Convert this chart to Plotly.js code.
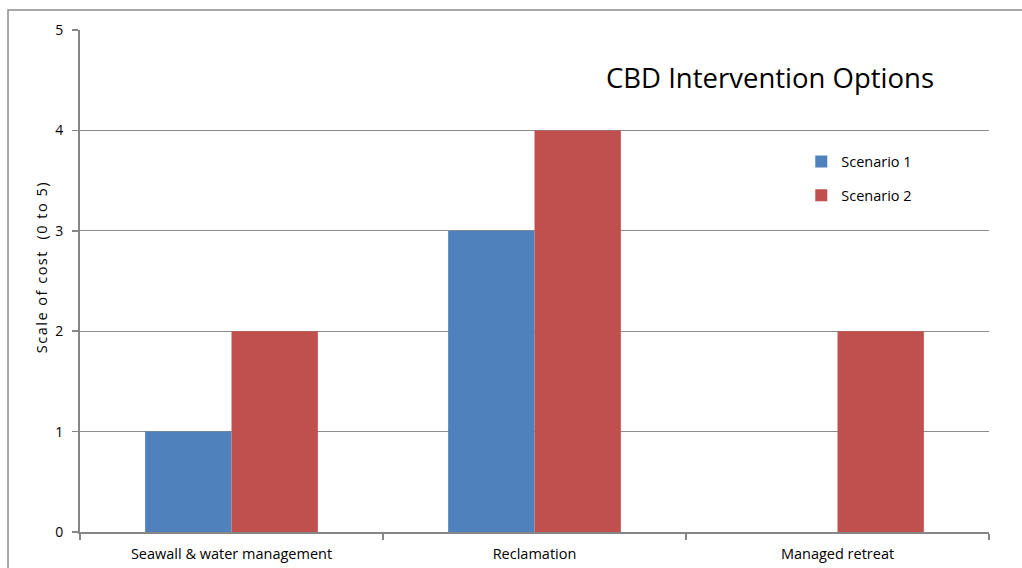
<!DOCTYPE html>
<html>
<head>
<meta charset="utf-8">
<script src="https://cdn.plot.ly/plotly-3.0.1.min.js"></script>
<style>
  html, body { margin: 0; padding: 0; background: #fff; }
  #chart { width: 1022px; height: 568px; }
</style>
</head>
<body>
<div id="chart"></div>
<script>
// Intervention options and their cost scores under each scenario
const categories = ["Seawall & water management", "Reclamation", "Managed retreat"];
const scenario1 = [1, 3, 0];
const scenario2 = [2, 4, 2];
const seriesNames = ["Scenario 1", "Scenario 2"];
const yTicks = [0, 1, 2, 3, 4, 5];

const FONT = "Open Sans, Liberation Sans, sans-serif";

const traces = [
  {
    type: "bar", name: seriesNames[0], x: categories, y: scenario1,
    marker: { color: "#4F81BD", line: { width: 0 } },
    legendgroup: "s1", hoverinfo: "skip"
  },
  {
    type: "bar", name: seriesNames[1], x: categories, y: scenario2,
    marker: { color: "#C0504D", line: { width: 0 } },
    legendgroup: "s2", hoverinfo: "skip"
  }
];

const layout = {
  width: 1022, height: 568,
  margin: { l: 80, r: 33, t: 30, b: 36 },
  paper_bgcolor: "#ffffff", plot_bgcolor: "#ffffff",
  font: { family: FONT, size: 13, color: "#000" },
  barmode: "group", bargap: 0.43, bargroupgap: 0,
  showlegend: true,
  legend: {
    x: 0.7935, y: 0.770, xanchor: "left", yanchor: "top",
    bgcolor: "rgba(0,0,0,0)", font: { family: FONT, size: 14.5 },
    traceorder: "grouped", tracegroupgap: 12, itemwidth: 30
  },
  xaxis: {
    type: "category", showgrid: false,
    showline: true, linecolor: "#868686", linewidth: 2,
    ticks: "outside", ticklen: 6, tickcolor: "#868686", tickwidth: 1.5,
    tickson: "boundaries", tickfont: { family: FONT, size: 14.5 },
    ticklabelstandoff: 8,
    fixedrange: true
  },
  yaxis: {
    range: [0, 5], tickvals: yTicks, ticktext: yTicks.map(String),
    showgrid: true, gridcolor: "#8c8c8c", gridwidth: 1,
    showline: true, linecolor: "#868686", linewidth: 2,
    zeroline: false, mirror: false,
    ticks: "outside", ticklen: 6, tickcolor: "#868686", tickwidth: 1.5,
    tickfont: { family: FONT, size: 14 }, ticklabelstandoff: 6,
    fixedrange: true
  },
  annotations: [
    {
      text: "CBD Intervention Options", xref: "paper", yref: "paper",
      x: 0.759, y: 0.905, xanchor: "center", yanchor: "middle",
      showarrow: false, font: { family: FONT, size: 27.5, color: "#000" }
    },
    {
      // y-axis title
      text: "Scale of cost  (0 to 5)", xref: "paper", yref: "paper",
      x: -0.0418, y: 0.528, xanchor: "center", yanchor: "middle",
      textangle: -90, showarrow: false,
      font: { family: FONT, size: 14.5, color: "#000" }
    }
  ],
  shapes: [
    // chart frame
    {
      type: "rect", xref: "paper", yref: "paper",
      x0: -0.0792, x1: 1.05, y0: -0.2, y1: 1.0398,
      line: { color: "#8c8c8c", width: 1.5 }, fillcolor: "rgba(0,0,0,0)", layer: "below"
    }
  ]
};

Plotly.newPlot("chart", traces, layout, { staticPlot: true, displayModeBar: false }).then(gd => {
  // widen the letter spacing of the rotated axis title
  const notes = gd.querySelectorAll(".annotation-text");
  if (notes.length > 1) notes[1].style.letterSpacing = "1.5px";
});
</script>
</body>
</html>
